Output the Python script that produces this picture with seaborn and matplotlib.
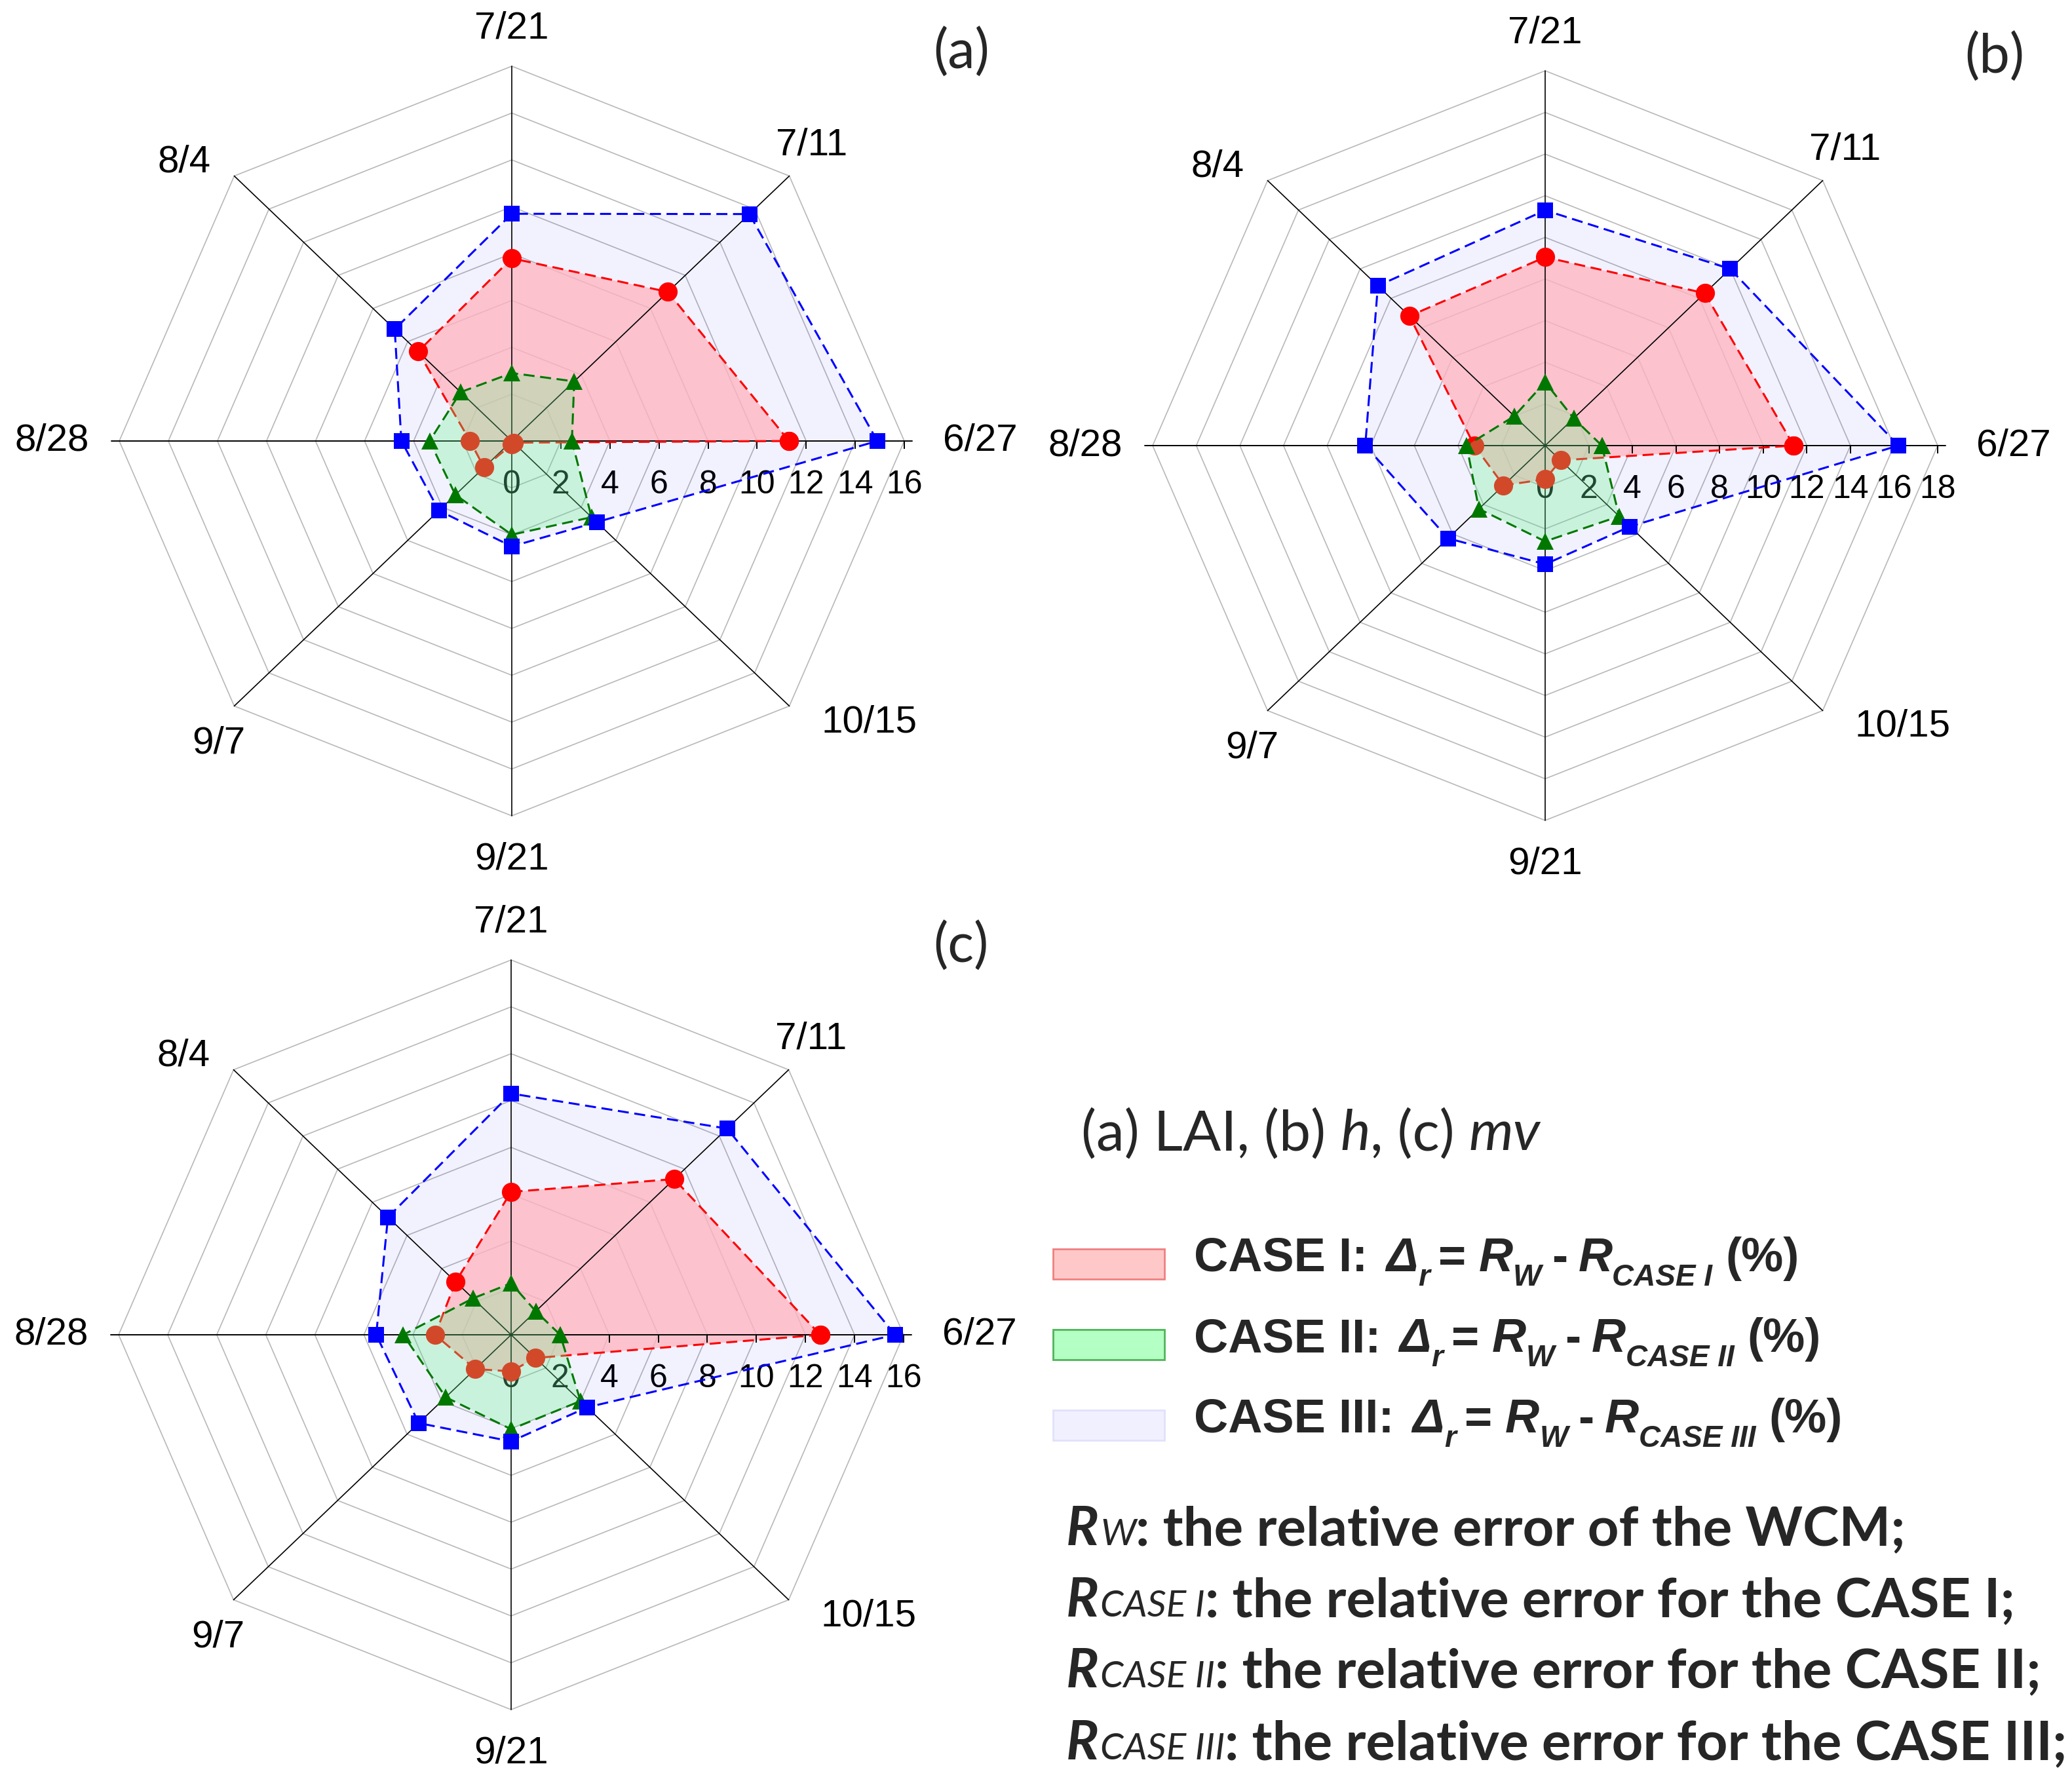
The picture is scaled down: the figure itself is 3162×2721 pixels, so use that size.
import numpy as np
import pandas as pd
import seaborn as sns
import matplotlib.pyplot as plt
from matplotlib.patches import Rectangle

# ---------------- estilo ----------------
sns.set_theme(style="white")
plt.rcParams["font.family"] = ["Liberation Sans", "DejaVu Sans"]

W, H, DPI = 3162, 2721, 100

# ---------------- datos ----------------
fechas = ["6/27", "7/11", "7/21", "8/4", "8/28", "9/7", "9/21", "10/15"]
angulos = np.deg2rad(np.arange(0, 360, 45))

# (a) LAI
a_case1 = [11.3, 9.0, 7.8, 5.4, 1.7, 1.6, 0.15, 0.1]
a_case2 = [2.45, 3.6, 2.9, 2.95, 3.35, 3.25, 4.0, 4.6]
a_case3 = [14.9, 13.7, 9.7, 6.75, 4.5, 4.2, 4.5, 4.9]

# (b) h
b_case1 = [11.4, 10.35, 9.05, 8.8, 3.25, 2.7, 1.62, 1.0]
b_case2 = [2.6, 1.85, 3.05, 2.0, 3.6, 4.3, 4.6, 4.8]
b_case3 = [16.2, 12.0, 11.3, 10.85, 8.25, 6.3, 5.7, 5.5]

# (c) mv
c_case1 = [12.6, 9.4, 6.1, 3.2, 3.1, 2.07, 1.56, 1.4]
c_case2 = [2.0, 1.42, 2.2, 2.2, 4.4, 3.77, 4.03, 4.0]
c_case3 = [15.65, 12.45, 10.3, 7.1, 5.5, 5.33, 4.55, 4.38]

# posición de las etiquetas de fecha (en unidades de rmax)
etiq_dx = [1.194, 0.764, 0.0, -0.834, -1.171, -0.746, 0.0, 0.910]
etiq_dy = [0.0, 0.790, 1.100, 0.744, 0.0, -0.806, -1.117, -0.750]

ROJO, VERDE, AZUL = "#FF0000", "#007800", "#0000FF"
GUION = (0, (5.5, 2.8))

fig = plt.figure(figsize=(W / DPI, H / DPI), dpi=DPI)


def radar(cx, cy, rmax, c1, c2, c3, letra):
    # el radar ocupa ~599 px en horizontal y ~572 px en vertical
    sx, sy = 599 / rmax, 572 / rmax
    L = 1.3 * rmax
    ax = fig.add_axes([(cx - L * sx) / W, (H - cy - L * sy) / H,
                       2 * L * sx / W, 2 * L * sy / H])
    ax.set_xlim(-L, L)
    ax.set_ylim(-L, L)
    ax.axis("off")

    cs, sn = np.cos(angulos), np.sin(angulos)

    # rejilla octogonal
    for r in range(2, rmax + 1, 2):
        ax.plot(np.append(r * cs, r * cs[0]), np.append(r * sn, r * sn[0]),
                color="#b8b8b8", lw=1.2, zorder=1)

    # radios
    for k in range(8):
        if k in (0, 4):
            continue
        ax.plot([0, rmax * cs[k]], [0, rmax * sn[k]], color="black", lw=1.2, zorder=3.5)
    ax.plot([-rmax * 1.02, rmax * 1.02], [0, 0], color="black", lw=1.4, zorder=3.5)

    # marcas y etiquetas del eje radial
    marcas = np.arange(0, rmax + 1, 2)
    ax.vlines(marcas[1:], -12 / sy, 0, color="black", lw=1.4, zorder=3.5)
    for m in marcas:
        ax.text(m, -0.117 * rmax, str(m), ha="center", va="center",
                fontsize=36, color="black", zorder=1.8)

    # etiquetas de fecha
    for k, f in enumerate(fechas):
        ax.text(etiq_dx[k] * rmax, etiq_dy[k] * rmax, f, ha="center", va="center",
                fontsize=42, color="black")

    def poligono(vals):
        v = np.asarray(vals, dtype=float)
        df = pd.DataFrame({"x": v * cs, "y": v * sn})
        return pd.concat([df, df.iloc[:1]], ignore_index=True)

    d1, d2, d3 = poligono(c1), poligono(c2), poligono(c3)

    ax.fill(d3["x"], d3["y"], color=AZUL, alpha=0.05, lw=0, zorder=2)
    ax.fill(d1["x"], d1["y"], color="#FFB6C1", alpha=0.78, lw=0, zorder=3)
    sns.lineplot(data=d1, x="x", y="y", sort=False, estimator=None, ax=ax,
                 color=ROJO, lw=2.2, linestyle=GUION, marker="o", markersize=21,
                 markeredgecolor=ROJO, markeredgewidth=0, zorder=4)
    ax.fill(d2["x"], d2["y"], color="#6CF58C", alpha=0.30, lw=0, zorder=5)
    sns.lineplot(data=d2, x="x", y="y", sort=False, estimator=None, ax=ax,
                 color=VERDE, lw=2.2, linestyle=GUION, marker="^", markersize=19,
                 markeredgecolor=VERDE, markeredgewidth=0, zorder=6)
    sns.lineplot(data=d3, x="x", y="y", sort=False, estimator=None, ax=ax,
                 color=AZUL, lw=2.2, linestyle=GUION, marker="s", markersize=17,
                 markeredgecolor=AZUL, markeredgewidth=0, zorder=7)
    ax.set_xlabel("")
    ax.set_ylabel("")

    fig.text((cx + 686) / W, 1 - 81 / H - (cy - 673) / H, letra, ha="center", va="center",
             fontsize=60, family=["Lato", "DejaVu Sans"])


radar(781, 673, 16, a_case1, a_case2, a_case3, "(a)")
radar(2358, 680, 18, b_case1, b_case2, b_case3, "(b)")
radar(780, 2037, 16, c_case1, c_case2, c_case3, "(c)")

# ---------------- textos de la derecha ----------------
renderer = fig.canvas.get_renderer()


def escribir(x_px, y_px, piezas):
    x = x_px
    for texto, props, dy, gap in piezas:
        t = fig.text(x / W, 1 - (y_px + dy) / H, texto, ha="left", va="baseline", **props)
        x = t.get_window_extent(renderer).x1 + gap


ARIAL = ["Liberation Sans", "DejaVu Sans"]
LATO = ["Lato", "DejaVu Sans"]
gr = dict(family=ARIAL, fontsize=52, fontweight="bold")
gri = dict(family=ARIAL, fontsize=52, fontweight="bold", fontstyle="italic")
sub = dict(family=ARIAL, fontsize=33, fontweight="bold", fontstyle="italic")

escribir(1650, 1755, [
    ("(a) LAI, (b) ", dict(family=LATO, fontsize=62), 0, 0),
    ("h", dict(family=LATO, fontsize=62, fontstyle="italic"), 0, 0),
    (", (c) ", dict(family=LATO, fontsize=62), 0, 0),
    ("mv", dict(family=LATO, fontsize=62, fontstyle="italic"), 0, 0),
])

casos = ["CASE I", "CASE II", "CASE III"]
base_leyenda = [1940, 2063, 2186]
relleno = [("#FFC8C8", "#F08080"), ("#B4FFC3", "#50B45A"), ("#F0F0FF", "#E1E1FA")]
for caso, yb, (fc, ec) in zip(casos, base_leyenda, relleno):
    fig.add_artist(Rectangle((1607 / W, 1 - (yb + 12) / H), 170 / W, 46 / H,
                             transform=fig.transFigure, facecolor=fc, edgecolor=ec, lw=2))
    escribir(1822, yb, [
        (caso + ":", gr, 0, 28),
        ("\u0394", gri, 0, 0),
        ("r", sub, 22, 13),
        ("=", gr, 0, 20),
        ("R", gri, 0, 0),
        ("W", sub, 22, 16),
        ("-", gr, 0, 16),
        ("R", gri, 0, 0),
        (caso, sub, 22, 20),
        ("(%)", gr, 0, 0),
    ])

nb = dict(family=LATO, fontsize=60, fontweight="bold")
nbi = dict(family=LATO, fontsize=60, fontweight="bold", fontstyle="italic")
nsi = dict(family=LATO, fontsize=41, fontstyle="italic")
notas = [("W", "the relative error of the WCM;"),
         ("CASE I", "the relative error for the CASE I;"),
         ("CASE II", "the relative error for the CASE II;"),
         ("CASE III", "the relative error for the CASE III;")]
for (s, txt), yb in zip(notas, [2358, 2467, 2575, 2685]):
    escribir(1627, yb, [
        ("R", nbi, 0, 2),
        (s, nsi, 0, 0),
        (": " + txt, nb, 0, 0),
    ])

fig.savefig("out.png", dpi=DPI)
